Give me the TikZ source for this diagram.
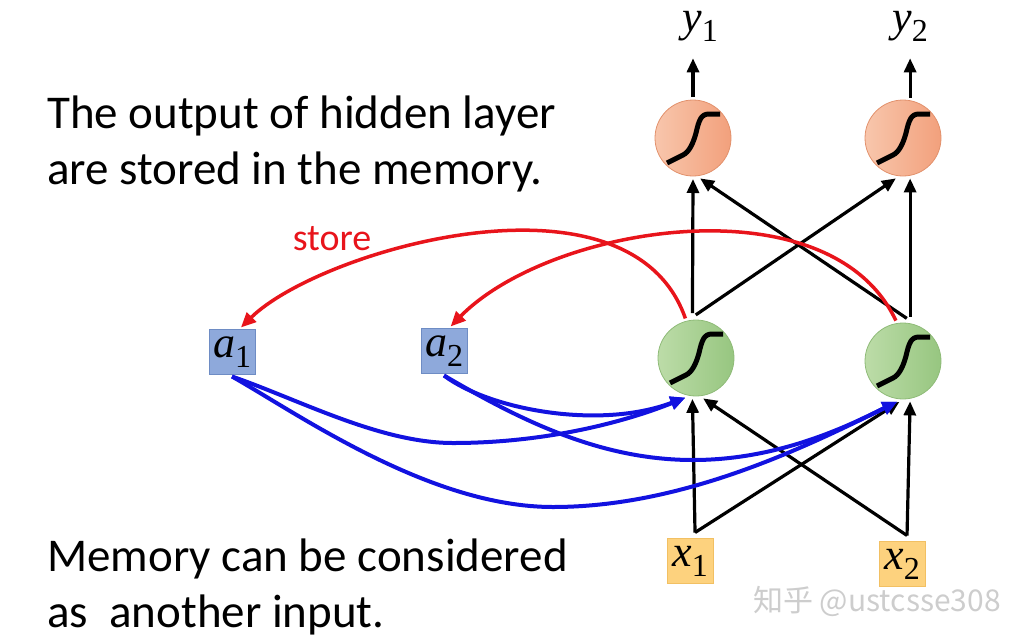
\documentclass[tikz,border=0pt]{standalone}
\usepackage{fontspec}
\setmainfont{Carlito}
\newfontfamily\tnr{Liberation Serif}
\newfontfamily\cjkfont{Noto Sans CJK SC}
\usetikzlibrary{arrows.meta}
\definecolor{storered}{HTML}{E8141B}
\definecolor{memblue}{HTML}{1212E0}
\definecolor{outfill}{HTML}{F2A07C}
\definecolor{outlight}{HTML}{F8C6AC}
\definecolor{outedge}{HTML}{E2916C}
\definecolor{hidfill}{HTML}{97C680}
\definecolor{hidlight}{HTML}{BCDCA8}
\definecolor{hidedge}{HTML}{8FBB78}
\definecolor{memfill}{HTML}{8EA9DB}
\definecolor{memedge}{HTML}{6E8CC4}
\definecolor{infill}{HTML}{FDD27E}
\definecolor{inedge}{HTML}{F2C063}
\definecolor{wmgray}{HTML}{CDCDCD}
\newcommand\vlab[2]{{\tnr\itshape #1}\raisebox{-10pt}{\tnr\fontsize{32}{32}\selectfont #2}}

\begin{document}
\begin{tikzpicture}[
  x=1pt, y=-1pt,
  note/.style={anchor=north west, align=left, inner sep=0pt, font=\fontsize{47}{56}\selectfont},
  outn/.style={circle, minimum size=76pt, inner sep=0pt, outer sep=3pt, draw=outedge, line width=0.8pt, left color=outlight, right color=outfill},
  hidn/.style={outn, draw=hidedge, left color=hidlight, right color=hidfill},
  memn/.style={rectangle, minimum width=46pt, minimum height=45pt, inner sep=0pt, outer sep=2pt, draw=memedge, line width=0.8pt, fill=memfill, font=\fontsize{44}{44}\selectfont},
  inn/.style={memn, outer sep=6pt, draw=inedge, fill=infill},
  lab/.style={inner sep=0pt, font=\fontsize{44}{44}\selectfont},
  sig/.style={line width=5pt, line join=round},
  ar/.style={-{Triangle[length=14pt,width=12pt]}, line width=3.2pt},
  st/.style={-{Triangle[length=15pt,width=13pt]}, draw=storered, line width=3.5pt},
  mem/.style={-{Triangle[length=15pt,width=13pt]}, draw=memblue, line width=4pt},
  wm/.style={font=\cjkfont\fontsize{30}{30}\selectfont, text=wmgray},
]
\useasboundingbox (0,0) rectangle (1033,641);

\node[note] (stored) at (47,96) {The output of hidden layer\\are stored in the memory.};
\node[note] (memory) at (47,539) {Memory can be considered\\as\ \ another input.};

\node[outn] (out1) at (693,138) {};
\node[outn] (out2) at (903,138) {};
\node[hidn] (hid1) at (696,358) {};
\node[hidn] (hid2) at (903,361) {};
\node[memn] (a1) at (232,352) {\vlab{a}{1}};
\node[memn] (a2) at (444,351) {\vlab{a}{2}};
\node[inn] (x1) at (690,561) {\vlab{x}{1}};
\node[inn] (x2) at (902,564) {\vlab{x}{2}};
\node[lab] (y1) at (700,26) {\vlab{y}{1}};
\node[lab] (y2) at (910,26) {\vlab{y}{2}};
\node[font=\fontsize{38}{38}\selectfont, text=storered] (storelab) at (332,239) {store};
\node[wm] (mark) at (877,601) {知乎 @ustcsse308};

\foreach \n in {out1,out2,hid1,hid2}
  \draw[sig, shift={(\n.center)}] (-26,25) -- (-10,17) .. controls (-4,14) and (0,6) .. (3,-5)
    .. controls (6,-18) and (8,-24) .. (16,-24) -- (27,-24);

\draw[ar, shorten >=17pt] (out1.90) -- (out1.90 |- y1.south);
\draw[ar, shorten >=17pt] (out2.80) -- (out2.80 |- y2.south);

\draw[ar, shorten <=4pt] (hid1.95) -- (out1.-90);
\draw[ar, shorten <=4pt] (hid1.95) -- (out2.-100);
\draw[ar, shorten <=4pt] (hid2.80) -- (out2.-80);
\draw[ar, shorten <=4pt] (hid2.80) -- (out1.-80);

\draw[ar] (x1.80) -- (hid1.-95);
\draw[ar] (x1.80) -- (hid2.-95);
\draw[ar] (x2.80) -- (hid2.-80);
\draw[ar] (x2.80) -- (hid1.-80);

\draw[mem] (a1.south) .. controls (300,400) and (380,443) .. (453,443)
  .. controls (550,443) and (630,420) .. (hid1.-105);
\draw[mem] (a1.south) .. controls (300,415) and (430,507) .. (553,507)
  .. controls (680,507) and (800,450) .. (hid2.-98);
\draw[mem] (a2.south) .. controls (490,410) and (600,430) .. (hid1.-105);
\draw[mem] (a2.south) .. controls (520,420) and (600,460) .. (693,460)
  .. controls (780,460) and (850,425) .. (hid2.-98);

\draw[st] (hid1.105) .. controls (630,160) and (320,250) .. (a1.70);
\draw[st] (hid2.100) .. controls (830,180) and (550,225) .. (a2.75);
\end{tikzpicture}
\end{document}
